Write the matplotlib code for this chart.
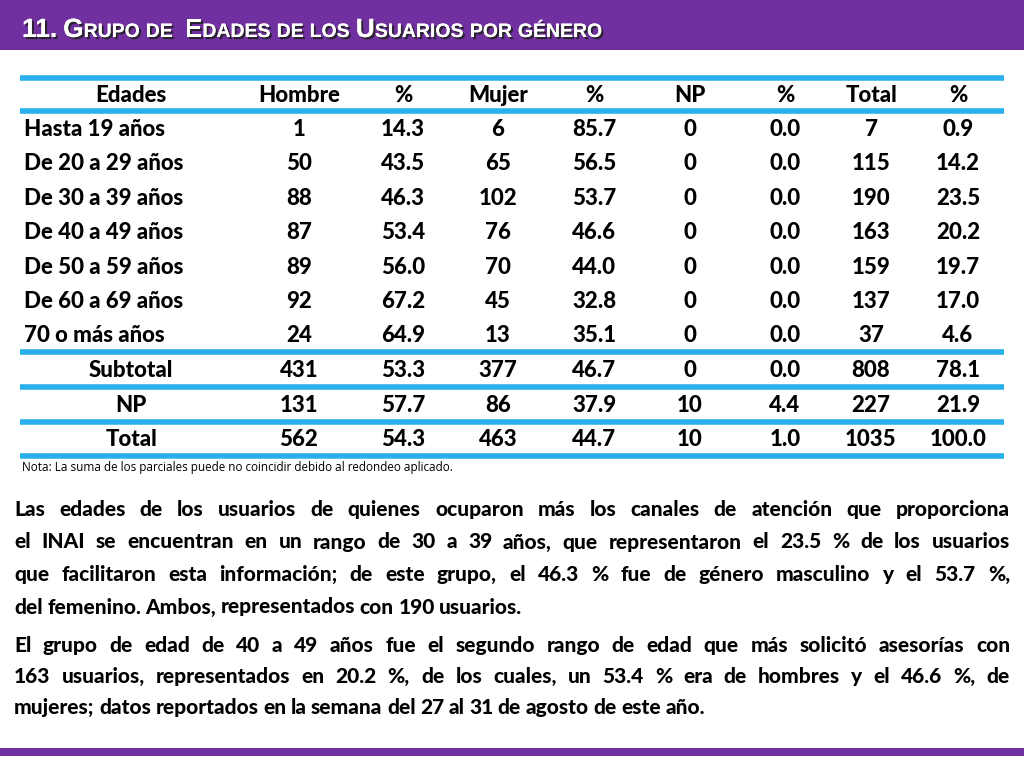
import matplotlib.pyplot as plt
import matplotlib.patheffects as pe

# table data
headers = ["Edades", "Hombre", "%", "Mujer", "%", "NP", "%", "Total", "%"]
age_groups = ["Hasta 19 años", "De 20 a 29 años", "De 30 a 39 años", "De 40 a 49 años",
              "De 50 a 59 años", "De 60 a 69 años", "70 o más años"]
hombre = [1, 50, 88, 87, 89, 92, 24]
hombre_pct = [14.3, 43.5, 46.3, 53.4, 56.0, 67.2, 64.9]
mujer = [6, 65, 102, 76, 70, 45, 13]
mujer_pct = [85.7, 56.5, 53.7, 46.6, 44.0, 32.8, 35.1]
np_count = [0, 0, 0, 0, 0, 0, 0]
np_pct = [0.0, 0.0, 0.0, 0.0, 0.0, 0.0, 0.0]
total = [7, 115, 190, 163, 159, 137, 37]
total_pct = [0.9, 14.2, 23.5, 20.2, 19.7, 17.0, 4.6]
summary_labels = ["Subtotal", "NP", "Total"]
summary_rows = [
    [431, 53.3, 377, 46.7, 0, 0.0, 808, 78.1],
    [131, 57.7, 86, 37.9, 10, 4.4, 227, 21.9],
    [562, 54.3, 463, 44.7, 10, 1.0, 1035, 100.0],
]

title_words = ["11.", "Grupo", "de", "", "Edades", "de", "los", "Usuarios", "por", "género"]
note = "Nota: La suma de los parciales puede no coincidir debido al redondeo aplicado."
paragraph1 = [
    "Las edades de los usuarios de quienes ocuparon más los canales de atención que proporciona",
    "el INAI se encuentran en un rango de 30 a 39 años, que representaron el 23.5 % de los usuarios",
    "que facilitaron esta información; de este grupo, el 46.3 % fue de género masculino y el 53.7 %,",
    "del femenino. Ambos, representados con 190 usuarios.",
]
paragraph2 = [
    "El grupo de edad de 40 a 49 años fue el segundo rango de edad que más solicitó asesorías con",
    "163 usuarios, representados en 20.2 %, de los cuales, un 53.4 % era de hombres y el 46.6 %, de",
    "mujeres; datos reportados en la semana del 27 al 31 de agosto de este año.",
]

purple = "#7030A0"
blue = "#29B0EC"
font = "Lato"

fig = plt.figure(figsize=(10.24, 7.68), dpi=100)
ax = fig.add_axes([0, 0, 1, 1])
ax.set_xlim(0, 1024)
ax.set_ylim(768, 0)
ax.axis("off")

# banners
ax.add_patch(plt.Rectangle((0, 0), 1024, 50, color=purple, lw=0))
ax.add_patch(plt.Rectangle((0, 748), 1024, 8, color=purple, lw=0))

fig.canvas.draw()
renderer = fig.canvas.get_renderer()
inv = ax.transData.inverted()

def width_of(t):
    bb = t.get_window_extent(renderer)
    a = inv.transform((bb.x0, bb.y0))
    b = inv.transform((bb.x1, bb.y0))
    return b[0] - a[0]

# small caps title
shadow = [pe.withSimplePatchShadow(offset=(1.5, -1.5), shadow_rgbFace="#222222", alpha=0.9), pe.Normal()]
tfont = dict(color="white", fontweight="bold", family="Liberation Sans",
             fontstretch="condensed", path_effects=shadow, va="baseline")
x = 22
for w in title_words:
    if w == "":
        x += 6
        continue
    if not w[0].isalpha():
        t = ax.text(x, 37, w, fontsize=19, **tfont)
        x += width_of(t) + 6
        continue
    if w[0].isupper():
        t = ax.text(x, 37, w[0], fontsize=19, **tfont)
        x += width_of(t)
        rest = w[1:].upper()
    else:
        rest = w.upper()
    t = ax.text(x, 37, rest, fontsize=14, **tfont)
    x += width_of(t) + 6

# table lines
for yl in [78, 111, 352, 387, 422, 456]:
    ax.plot([20, 1004], [yl, yl], color=blue, lw=4, solid_capstyle="butt")

col_x = [131, 299, 403, 498, 594, 690, 785, 871, 958]
fs = 16
cell = dict(fontsize=fs, fontweight="heavy", family=font, va="baseline")
for cx, h in zip(col_x, headers):
    ax.text(cx, 102, h, ha="center", **cell)

row_y = [136, 170, 205, 239, 274, 308, 342]
for i, yy in enumerate(row_y):
    vals = [hombre[i], f"{hombre_pct[i]:.1f}", mujer[i], f"{mujer_pct[i]:.1f}",
            np_count[i], f"{np_pct[i]:.1f}", total[i], f"{total_pct[i]:.1f}"]
    ax.text(24, yy, age_groups[i], ha="left", **cell)
    for cx, v in zip(col_x[1:], vals):
        ax.text(cx, yy, str(v), ha="center", **cell)

for lab, row, yy in zip(summary_labels, summary_rows, [377, 412, 446]):
    ax.text(131, yy, lab, ha="center", **cell)
    for j, (cx, v) in enumerate(zip(col_x[1:], row)):
        s = f"{v:.1f}" if j % 2 == 1 else str(v)
        ax.text(cx, yy, s, ha="center", **cell)

ax.text(22, 467, note, ha="left", va="center", fontsize=8.5, family="Open Sans")

# justified paragraphs
def draw_par(lines, y0, step, left=14, right=1010):
    for k, line in enumerate(lines):
        yy = y0 + k * step
        words = line.split(" ")
        texts = [ax.text(0, yy, w, ha="left", va="baseline", fontsize=15,
                         fontweight="heavy", family=font) for w in words]
        widths = [width_of(t) for t in texts]
        last = k == len(lines) - 1
        gap = 4.5 if last else (right - left - sum(widths)) / max(len(words) - 1, 1)
        xx = left
        for t, wd in zip(texts, widths):
            t.set_x(xx)
            xx += wd + gap

draw_par(paragraph1, 516, 32.5)
draw_par(paragraph2, 652, 31)

fig.savefig("out.png", dpi=100)
